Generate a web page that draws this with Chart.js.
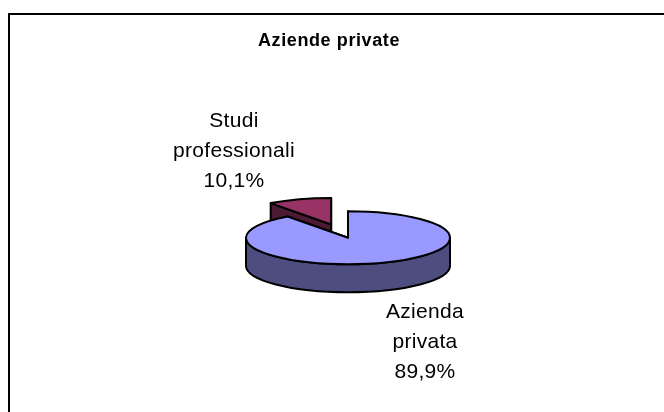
<!DOCTYPE html>
<html>
<head>
<meta charset="utf-8">
<script src="https://cdn.jsdelivr.net/npm/chart.js@4"></script>
<style>
  html, body { margin: 0; padding: 0; background: #fff; overflow: hidden; }
  #frame { position: absolute; left: 8px; top: 13px; right: 0; height: 399px;
           border-left: 2px solid #000; border-top: 2px solid #000; }
  canvas { display: block; }
</style>
</head>
<body>
<div id="frame"><canvas id="myChart" width="638" height="397"></canvas></div>
<script>
const titleText = "Aziende private";
const categories = ["Studi professionali", "Azienda privata"];
const percentages = [10.1, 89.9];
const topColors = ["#993366", "#9999FF"];
const sideColors = ["#4D1A33", "#4D4D80"];

const tilt = 0.26;
const depth = 28;
const explode = [54, 0];
const pieShift = 19;
const labelAt = [{ x: 224, y: 106 }, { x: 415, y: 297 }];
const lineGap = 30;

const fmt = v => v.toFixed(1).replace(".", ",") + "%";

const piePlugin = {
  id: "pie3d",
  beforeDraw(chart) {
    chart.ctx.letterSpacing = "0.6px";
  },
  afterDatasetsUpdate(chart) {
    chart.getDatasetMeta(0).data.forEach((arc, i) => {
      const mid = (arc.startAngle + arc.endAngle) / 2;
      arc.x += Math.cos(mid) * explode[i] + pieShift;
      arc.y += Math.sin(mid) * explode[i];
    });
  },
  beforeDatasetsDraw(chart) {
    const ctx = chart.ctx;
    const arcs = chart.getDatasetMeta(0).data;
    const cy = (chart.chartArea.top + chart.chartArea.bottom) / 2;
    const sy = y => cy + (y - cy) * tilt;

    ctx.lineWidth = 2;
    ctx.strokeStyle = "#000";
    ctx.lineJoin = "round";
    arcs.forEach((arc, i) => {
      const r = arc.outerRadius;
      const yc = sy(arc.y);
      ctx.fillStyle = sideColors[i];
      // the two cut faces
      [arc.startAngle, arc.endAngle].forEach(a => {
        const ex = arc.x + Math.cos(a) * r;
        const ey = yc + Math.sin(a) * r * tilt;
        ctx.beginPath();
        ctx.moveTo(arc.x, yc);
        ctx.lineTo(ex, ey);
        ctx.lineTo(ex, ey + depth);
        ctx.lineTo(arc.x, yc + depth);
        ctx.closePath();
        ctx.fill();
        ctx.stroke();
      });
      // outer wall, only the part that faces the viewer
      const a0 = Math.max(arc.startAngle, 0);
      const a1 = Math.min(arc.endAngle, Math.PI);
      if (a1 > a0) {
        ctx.beginPath();
        ctx.ellipse(arc.x, yc, r, r * tilt, 0, a0, a1);
        ctx.ellipse(arc.x, yc + depth, r, r * tilt, 0, a1, a0, true);
        ctx.closePath();
        ctx.fill();
        ctx.stroke();
      }
    });

    // the library draws the top faces squashed into ellipses
    ctx.save();
    ctx.translate(0, cy * (1 - tilt));
    ctx.scale(1, tilt);
  },
  afterDatasetsDraw(chart) {
    const ctx = chart.ctx;
    ctx.restore();

    const arcs = chart.getDatasetMeta(0).data;
    const cy = (chart.chartArea.top + chart.chartArea.bottom) / 2;
    arcs.forEach(arc => {
      const yc = cy + (arc.y - cy) * tilt;
      ctx.beginPath();
      ctx.moveTo(arc.x, yc);
      ctx.ellipse(arc.x, yc, arc.outerRadius, arc.outerRadius * tilt, 0, arc.startAngle, arc.endAngle);
      ctx.closePath();
      ctx.lineWidth = 2;
      ctx.strokeStyle = "#000";
      ctx.stroke();
    });

    ctx.letterSpacing = "0.3px";
    ctx.font = "21px 'Liberation Sans'";
    ctx.fillStyle = "#000";
    ctx.textAlign = "center";
    ctx.textBaseline = "middle";
    categories.forEach((c, i) => {
      const lines = c.split(" ").concat(fmt(percentages[i]));
      lines.forEach((t, j) => ctx.fillText(t, labelAt[i].x, labelAt[i].y + j * lineGap));
    });
  }
};

new Chart(document.getElementById("myChart"), {
  type: "pie",
  data: {
    labels: categories,
    datasets: [{
      data: percentages,
      backgroundColor: topColors,
      borderWidth: 0,
      hoverOffset: 0
    }]
  },
  options: {
    responsive: false,
    animation: false,
    events: [],
    radius: 102,
    rotation: -36.36,
    plugins: {
      legend: { display: false },
      tooltip: { enabled: false },
      title: {
        display: true,
        text: titleText,
        color: "#000",
        font: { family: "'Liberation Sans'", size: 18, weight: "bold" },
        padding: { top: 15, bottom: 12 }
      }
    }
  },
  plugins: [piePlugin]
});
</script>
</body>
</html>
